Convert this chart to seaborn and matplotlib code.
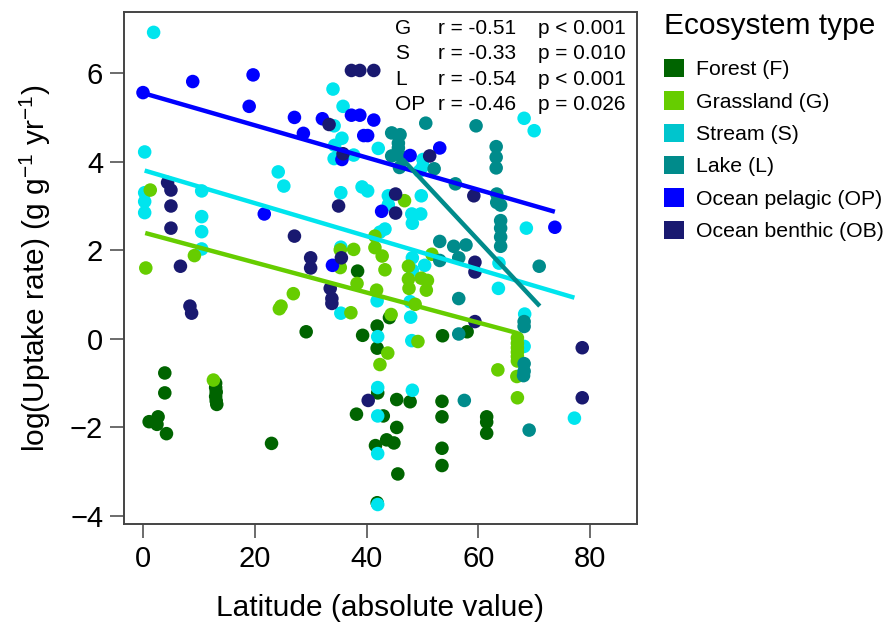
import numpy as np
import pandas as pd
import matplotlib
matplotlib.use("Agg")
import matplotlib.pyplot as plt
import seaborn as sns
from matplotlib.patches import Patch

# ---------------- data ----------------
categories = ["Forest (F)", "Grassland (G)", "Stream (S)", "Lake (L)",
              "Ocean pelagic (OP)", "Ocean benthic (OB)"]

forest_x = [1.1, 2.7, 2.5, 4.2, 3.9, 3.9, 13.0, 13.0, 13.1, 13.0, 13.1, 13.2,
            23.0, 29.2, 38.4, 39.3, 38.2, 41.9, 41.9, 42.0, 41.6, 41.9,
            43.0, 43.6, 44.9, 45.4, 45.6, 45.4, 47.8, 44.1,
            53.5, 53.5, 53.5, 53.5, 53.6, 58.0, 61.5, 61.5, 61.5]
forest_y = [-1.87, -1.76, -1.93, -2.14, -0.77, -1.22, -1.00, -1.10, -1.20, -1.30, -1.40, -1.48,
            -2.36, 0.16, 1.53, 0.08, -1.70, 0.29, -0.21, -1.22, -2.41, -3.70,
            -1.74, -2.28, -2.35, -2.00, -3.05, -1.37, -1.42, 0.48,
            -1.41, -1.76, -2.47, -2.86, 0.07, 0.16, -1.76, -1.88, -2.13]

grass_x = [1.3, 0.5, 9.2, 12.6, 24.4, 24.7, 26.9, 35.3, 35.3, 37.7, 38.3, 37.2,
           41.5, 41.5, 42.8, 43.3, 41.8, 42.4, 43.8, 44.4,
           46.8, 47.5, 47.5, 47.6, 48.7, 49.2, 49.8, 50.9, 50.7, 51.7,
           63.5, 67.0, 67.0, 67.0, 67.0, 67.0, 67.0, 66.9, 67.0]
grass_y = [3.36, 1.60, 1.88, -0.93, 0.68, 0.74, 1.02, 2.01, 1.61, 2.02, 1.25, 0.59,
           2.32, 2.06, 1.87, 1.56, 1.10, -0.58, -0.32, 0.55,
           3.12, 1.64, 1.35, 1.14, 0.78, -0.06, 1.37, 1.32, 1.10, 1.91,
           -0.70, 0.02, -0.10, -0.20, -0.30, -0.40, -0.50, -0.85, -1.33]

stream_x = [1.9, 0.3, 0.3, 0.3, 0.3, 10.5, 10.5, 10.5, 10.5, 24.2, 25.2,
            34.0, 35.8, 34.2, 35.6, 34.3, 34.2, 37.7, 42.1,
            35.4, 39.2, 40.2, 43.9, 43.9, 49.8,
            48.1, 49.7, 48.2, 43.3, 42.4, 35.4,
            48.2, 48.2, 50.4,
            35.4, 41.9, 47.8, 47.9, 42.0, 48.1,
            42.0, 42.0, 42.0, 42.0, 48.2,
            50.1, 50.1, 49.5,
            63.7, 63.6, 68.6, 68.2, 70.0, 68.3, 68.2, 77.2]
stream_y = [6.92, 4.22, 3.30, 3.10, 2.85, 3.34, 2.76, 2.42, 2.03, 3.77, 3.45,
            5.64, 5.25, 4.81, 4.53, 4.37, 4.07, 4.15, 4.30,
            3.30, 3.43, 3.34, 3.23, 3.03, 3.23,
            2.82, 2.82, 2.61, 2.48, 2.41, 2.07,
            1.83, 1.55, 1.66,
            0.58, 0.86, 0.84, 0.49, 0.05, -0.04,
            -1.10, -1.74, -2.59, -3.74, -1.16,
            4.05, 3.90, 3.79,
            1.71, 1.14, 2.50, 4.98, 4.70, 0.56, -0.17, -1.79]

lake_x = [44.5, 46.0, 45.7, 45.7, 44.5, 46.0, 45.9,
          50.6, 59.6, 52.1, 55.9,
          63.2, 63.2, 63.2, 63.3, 63.3, 64.0, 64.0, 64.0, 64.0, 64.0, 70.9,
          53.1, 55.6, 57.8, 56.5, 53.1, 56.5, 56.5,
          68.2, 68.2, 68.2, 68.2, 68.1, 57.5, 69.1]
lake_y = [4.65, 4.61, 4.42, 4.31, 4.13, 4.13, 3.87,
          4.87, 4.81, 3.84, 3.50,
          4.34, 4.10, 3.86, 3.27, 3.08, 3.02, 2.67, 2.50, 2.30, 2.09, 1.64,
          2.20, 2.09, 2.12, 1.83, 1.77, 0.91, 0.11,
          0.39, 0.28, -0.56, -0.73, -0.83, -1.39, -2.06]

pelagic_x = [0.0, 8.9, 19.7, 19.0, 27.1, 32.1, 28.7, 37.3, 38.8, 41.3, 39.5, 40.2,
             47.8, 53.1, 21.7, 33.9, 42.7, 73.7, 35.6]
pelagic_y = [5.56, 5.81, 5.96, 5.25, 5.00, 4.97, 4.64, 5.05, 5.05, 4.94, 4.59, 4.59,
             4.14, 4.31, 2.82, 1.66, 2.88, 2.52, 4.05]

benthic_x = [37.3, 38.8, 41.3, 33.3, 4.4, 5.0, 5.0, 5.0, 6.7, 8.4, 8.7, 27.1, 30.0, 30.0,
             35.0, 35.5, 33.5, 33.8, 33.8, 45.2, 45.2, 51.3, 59.2, 59.4, 59.4, 59.4,
             40.3, 78.6, 78.6, 35.8]
benthic_y = [6.06, 6.06, 6.06, 4.84, 3.53, 3.36, 3.00, 2.50, 1.64, 0.74, 0.58, 2.32, 1.83, 1.60,
             3.00, 1.83, 1.14, 0.91, 0.80, 3.27, 2.84, 4.13, 3.23, 1.73, 1.51, 0.39,
             -1.39, -0.20, -1.33, 4.18]

# fitted regression lines (end points)
fit_groups = ["Grassland (G)", "Stream (S)", "Ocean pelagic (OP)", "Lake (L)"]
fit_x0 = [0.4, 0.3, 0.0, 46.5]
fit_x1 = [67.0, 77.2, 73.7, 71.0]
fit_y0 = [2.39, 3.80, 5.55, 4.05]
fit_y1 = [0.13, 0.93, 2.87, 0.74]

stat_labels = ["G", "S", "L", "OP"]
stat_r = ["r = -0.51", "r = -0.33", "r = -0.54", "r = -0.46"]
stat_p = ["p < 0.001", "p = 0.010", "p < 0.001", "p = 0.026"]

x_ticks = [0, 20, 40, 60, 80]
y_ticks = [-4, -2, 0, 2, 4, 6]

# ---------------- styling ----------------
point_colors = {"Forest (F)": "#006400", "Grassland (G)": "#66CD00",
                "Stream (S)": "#00E5EE", "Lake (L)": "#008B8B",
                "Ocean pelagic (OP)": "#0000FF", "Ocean benthic (OB)": "#191970"}
legend_colors = {"Forest (F)": "#006400", "Grassland (G)": "#66CD00",
                 "Stream (S)": "#00C5CD", "Lake (L)": "#008B8B",
                 "Ocean pelagic (OP)": "#0000FF", "Ocean benthic (OB)": "#191970"}

sns.set_theme(style="white")
plt.rcParams["font.family"] = ["Liberation Sans", "DejaVu Sans"]
plt.rcParams["mathtext.fontset"] = "custom"
plt.rcParams["mathtext.rm"] = "Liberation Sans"
plt.rcParams["mathtext.it"] = "Liberation Sans:italic"
plt.rcParams["mathtext.bf"] = "Liberation Sans:bold"
plt.rcParams["text.color"] = "black"
plt.rcParams["axes.labelcolor"] = "black"
plt.rcParams["xtick.color"] = "black"
plt.rcParams["ytick.color"] = "black"

# build the long table (draw order as in the reference)
draw_order = [("Forest (F)", forest_x, forest_y),
              ("Stream (S)", stream_x, stream_y),
              ("Grassland (G)", grass_x, grass_y),
              ("Lake (L)", lake_x, lake_y),
              ("Ocean pelagic (OP)", pelagic_x, pelagic_y),
              ("Ocean benthic (OB)", benthic_x, benthic_y)]
frames = [pd.DataFrame({"lat": xs, "uptake": ys, "type": name}) for name, xs, ys in draw_order]
df = pd.concat(frames, ignore_index=True)

W, H = 887, 625
fig = plt.figure(figsize=(W / 100, H / 100), dpi=100)
ax = fig.add_axes([124 / W, 1 - 524 / H, 513 / W, 512 / H])

sns.scatterplot(data=df, x="lat", y="uptake", hue="type", hue_order=categories,
                palette=point_colors, s=95, linewidth=0, legend=False, ax=ax, zorder=2)

for g, x0, x1, y0, y1 in zip(fit_groups, fit_x0, fit_x1, fit_y0, fit_y1):
    ax.plot([x0, x1], [y0, y1], color=point_colors[g], lw=3.2,
            solid_capstyle="butt", zorder=3)

ax.set_xlim(-3.4, 88.4)
ax.set_ylim(-4.18, 7.38)
ax.set_xticks(x_ticks)
ax.set_yticks(y_ticks)
ax.set_xticklabels([str(v) for v in x_ticks])
ax.set_yticklabels([str(v).replace("-", "\u2212") for v in y_ticks])

for sp in ax.spines.values():
    sp.set_visible(True)
    sp.set_color("#444444")
    sp.set_linewidth(1.4)
ax.tick_params(axis="both", direction="out", length=10, width=1.1, color="#444444",
               labelsize=21, pad=5, labelcolor="black")
ax.tick_params(axis="both", which="both", bottom=True, left=True, top=False, right=False)
ax.grid(False)

ax.set_xlabel("Latitude (absolute value)", fontsize=21.5, labelpad=15, color="black")
ax.set_ylabel(r"log(Uptake rate) (g g$^{-1}$ yr$^{-1}$)", fontsize=21.5, labelpad=12,
              color="black")

# statistics text block
row_y = [28, 53.5, 79.5, 105]
for lab, r, p, yy in zip(stat_labels, stat_r, stat_p, row_y):
    fig.text(395 / W, 1 - yy / H, lab, fontsize=15, va="center", ha="left", color="black")
    fig.text(438 / W, 1 - yy / H, r, fontsize=15, va="center", ha="left", color="black")
    fig.text(538 / W, 1 - yy / H, p, fontsize=15, va="center", ha="left", color="black")

handles = [Patch(facecolor=legend_colors[c], edgecolor="none") for c in categories]
leg_fs = 15.3
leg_sp = 0.56
leg = fig.legend(handles, categories, title="Ecosystem type", loc="upper left",
                 bbox_to_anchor=(664 / W, 1 - 12 / H), frameon=False,
                 fontsize=leg_fs, title_fontsize=21.5, alignment="left",
                 handlelength=0.95, handleheight=0.95, handletextpad=0.55,
                 labelspacing=leg_sp, borderaxespad=0, borderpad=0,
                 labelcolor="black")
leg.get_title().set_color("black")
# extra gap between the legend title and the first entry
leg._legend_box.sep = leg_sp * leg_fs + 5.0

fig.savefig("out.png", dpi=100)
